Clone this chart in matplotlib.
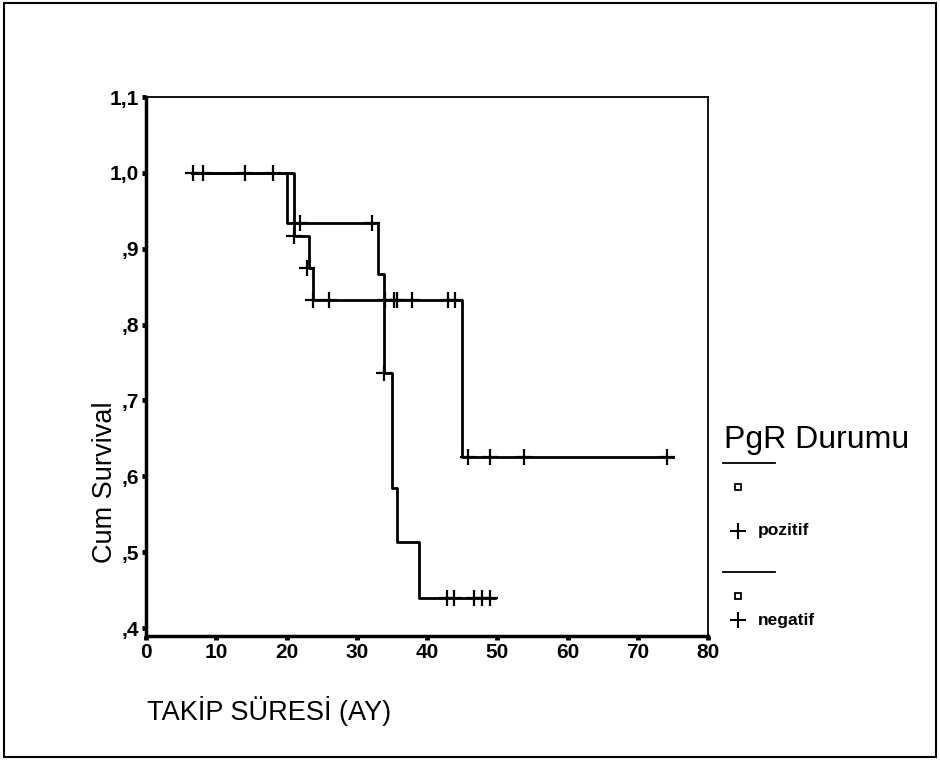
import matplotlib
matplotlib.use("Agg")
import matplotlib.pyplot as plt
from matplotlib.lines import Line2D
from matplotlib.patches import Rectangle

plt.rcParams['font.family'] = ['Liberation Sans', 'DejaVu Sans']

# Kaplan-Meier step curves (time in months, cumulative survival)
negTimes = [6.5, 20.0, 33.0, 33.9, 35.0, 35.8, 38.9, 49.7]
negSurv = [1.0, 0.934, 0.867, 0.736, 0.585, 0.513, 0.440, 0.440]
negCensT = [6.7, 14.1, 21.9, 32.2, 33.9, 42.9, 43.9, 46.7, 47.9, 48.9]
negCensS = [1.0, 1.0, 0.934, 0.934, 0.736, 0.440, 0.440, 0.440, 0.440, 0.440]

posTimes = [6.5, 21.0, 23.2, 23.8, 45.0, 75.0]
posSurv = [1.0, 0.917, 0.875, 0.832, 0.626, 0.626]
posCensT = [8.1, 18.1, 21.0, 22.9, 23.8, 26.1, 34.0, 35.3, 35.8, 37.9, 43.0, 44.0, 45.9, 49.0, 53.8, 74.2]
posCensS = [1.0, 1.0, 0.917, 0.875, 0.832, 0.832, 0.832, 0.832, 0.832, 0.832, 0.832, 0.832,
            0.626, 0.626, 0.626, 0.626]

xTicks = [0, 10, 20, 30, 40, 50, 60, 70, 80]
yTicks = [0.4, 0.5, 0.6, 0.7, 0.8, 0.9, 1.0, 1.1]
yLabels = [',4', ',5', ',6', ',7', ',8', ',9', '1,0', '1,1']
groups = ['pozitif', 'negatif']

fig = plt.figure(figsize=(9.4, 7.6), dpi=100)
ax = fig.add_axes([146 / 940, 1 - 636 / 760, (708 - 146) / 940, (636 - 97) / 760])

for tt, ss, ct, cs in [(posTimes, posSurv, posCensT, posCensS),
                       (negTimes, negSurv, negCensT, negCensS)]:
    ax.step(tt, ss, where='post', color='black', lw=2)
    ax.plot(ct, cs, linestyle='none', marker='+', color='black', ms=12, mew=1.6)

ax.set_xlim(0, 80)
ax.set_ylim(0.3895, 1.1)
ax.set_xticks(xTicks)
ax.set_yticks(yTicks)
ax.set_yticklabels(yLabels)
ax.tick_params(direction='out', length=3, width=3.5, labelsize=15, pad=2)
for lab in ax.get_xticklabels() + ax.get_yticklabels():
    lab.set_fontweight('bold')

ax.spines['left'].set_linewidth(2.5)
ax.spines['bottom'].set_linewidth(2.5)
ax.spines['top'].set_linewidth(1.3)
ax.spines['right'].set_linewidth(1.3)

fig.text(105 / 940, 1 - 482 / 760, 'Cum Survival', rotation=90, fontsize=19.5,
         ha='center', va='center')
fig.text(147 / 940, 1 - 711 / 760, 'TAKİP SÜRESİ (AY)', fontsize=19.5,
         ha='left', va='center')

# legend drawn by hand, SPSS style
fig.text(724 / 940, 1 - 440 / 760, 'PgR Durumu', fontsize=23, ha='left', va='center')
legLineY = [463, 572]
legBoxY = [487, 596]
legPlusY = [531, 620]
for ii, name in enumerate(groups):
    fig.add_artist(Line2D([723 / 940, 775 / 940], [1 - legLineY[ii] / 760] * 2,
                          color='black', lw=1.3))
    fig.add_artist(Line2D([738 / 940], [1 - legBoxY[ii] / 760], marker='s', ms=5,
                          mfc='white', mec='black', mew=1.3, linestyle='none'))
    fig.add_artist(Line2D([738 / 940], [1 - legPlusY[ii] / 760], marker='+', ms=11,
                          color='black', mew=1.5, linestyle='none'))
    fig.text(758 / 940, 1 - legPlusY[ii] / 760, name, fontsize=12.5, fontweight='bold',
             ha='left', va='center')

fig.add_artist(Rectangle((0.004, 0.004), 0.992, 0.992, transform=fig.transFigure,
                         fill=False, color='black', lw=1.5))

plt.savefig('out.png', dpi=100)
